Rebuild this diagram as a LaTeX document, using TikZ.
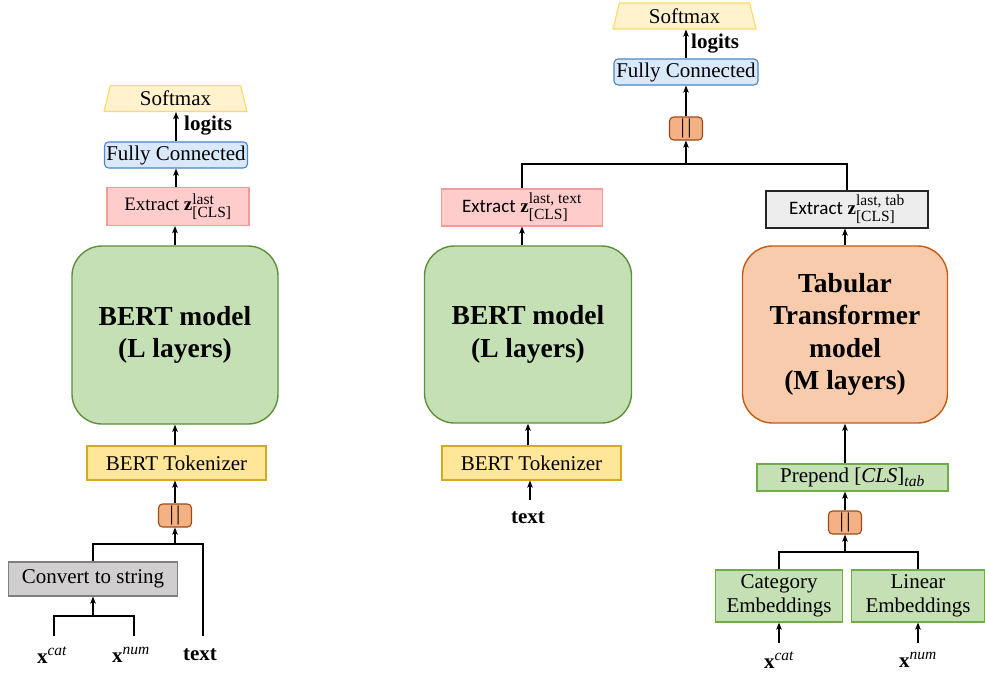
\documentclass[tikz,border=0pt]{standalone}
\usepackage{fontspec}
\setmainfont{Liberation Serif}
\newfontfamily\calfont{Carlito}
\usepackage{amsmath}
\usetikzlibrary{shapes.geometric,arrows.meta}
\newcommand\myfn{\fontsize{21}{24}\selectfont}
\newcommand\myfx{\fontsize{19}{21}\selectfont}
\newcommand\myfb{\fontsize{27.5}{32.5}\selectfont\bfseries}
\newcommand\myfl{\fontsize{21}{24}\selectfont\bfseries}
\newcommand\myfc{\fontsize{21}{22}\selectfont}
\newcommand\myss[1]{\mbox{\fontsize{15.5}{15.5}\selectfont\mdseries #1}}
\newcommand\mysi[1]{\mbox{\fontsize{15.5}{15.5}\selectfont\mdseries\itshape #1}}
\newcommand\zvec[1]{$\textbf{z}^{\myss{#1}}_{\myss{[CLS]}}$}
\definecolor{smfill}{HTML}{FFF2CC}
\definecolor{smdraw}{HTML}{FFD966}
\definecolor{fcfill}{HTML}{DAE8FC}
\definecolor{fcdraw}{HTML}{4A86C5}
\definecolor{exfill}{HTML}{FFCCCC}
\definecolor{exdraw}{HTML}{F19C99}
\definecolor{grfill}{HTML}{C5E0B4}
\definecolor{grdraw}{HTML}{5E8F3A}
\definecolor{lgdraw}{HTML}{70AD47}
\definecolor{tkfill}{HTML}{FFE699}
\definecolor{tkdraw}{HTML}{D4AA22}
\definecolor{ccfill}{HTML}{F4B183}
\definecolor{ccdraw}{HTML}{9C4A1A}
\definecolor{cvfill}{HTML}{D0CECE}
\definecolor{cvdraw}{HTML}{7F7F7F}
\definecolor{etfill}{HTML}{EDEDED}
\definecolor{etdraw}{HTML}{262626}
\definecolor{tbfill}{HTML}{F8CBAD}
\definecolor{tbdraw}{HTML}{C55A11}
\begin{document}
\begin{tikzpicture}[x=1pt,y=-1pt,
  box/.style={draw, line width=1.1pt, inner sep=0pt, align=center, font=\myfn},
  smx/.style={box, trapezium, trapezium left angle=77, trapezium right angle=77,
    trapezium stretches=true, fill=smfill, draw=smdraw, minimum width=143pt, minimum height=26pt},
  fcbox/.style={box, rounded corners=4pt, fill=fcfill, draw=fcdraw, minimum width=143pt, minimum height=26pt},
  exbox/.style={box, font=\myfx, fill=exfill, draw=exdraw, minimum height=38pt},
  etbox/.style={box, font=\myfx, fill=etfill, draw=etdraw, minimum height=37pt},
  model/.style={box, font=\myfb, rounded corners=30pt, line width=1.4pt, minimum height=177pt},
  tkbox/.style={box, fill=tkfill, draw=tkdraw, minimum width=179pt, minimum height=34pt},
  ccbox/.style={box, font=\myfc, rounded corners=4pt, fill=ccfill, draw=ccdraw, minimum width=33pt, minimum height=23pt},
  gbox/.style={box, fill=grfill, draw=lgdraw},
  lab/.style={font=\myfl, inner sep=0pt},
  arr/.style={-{Stealth[length=7pt,width=5.5pt,inset=1.5pt]}, line width=1.7pt},
  ln/.style={line width=1.7pt}
]
\path[use as bounding box] (0,0) rectangle (985,675);

% ---------- left column ----------
\node[smx] (sm1) at (175.5,98.5) {Softmax};
\node[fcbox] (fc1) at (176,155) {Fully Connected};
\node[lab, anchor=west] (lg1) at (184,126) {logits};
\node[exbox, minimum width=142pt] (ex1) at (178,206.5) {Extract \zvec{last}};
\node[model, fill=grfill, draw=grdraw, minimum width=206pt, minimum height=178pt] (bert1) at (175,335) {BERT model\\(L layers)};
\node[tkbox] (tok1) at (176.5,463) {BERT Tokenizer};
\node[ccbox] (cc1) at (175,515.5) {|\hspace{2.5pt}|};
\node[box, fill=cvfill, draw=cvdraw, minimum width=169pt, minimum height=34pt] (conv) at (93,579) {Convert to string};
\node[lab] (xc1) at (52,655) {$\textbf{x}^{\mysi{cat}}$};
\node[lab] (xn1) at (131,655) {$\textbf{x}^{\mysi{num}}$};
\node[lab] (tx1) at (200,655) {text};

\coordinate (j1) at (175,544);
\coordinate (j2) at (93,616);
\coordinate (a1) at (54,636);
\coordinate (a2) at (134,636);
\coordinate (a3) at (203,636);

\draw[arr] (fc1.north) -- (fc1.north |- sm1.south);
\draw[arr] (fc1.south |- ex1.north) -- (fc1.south);
\draw[arr] (bert1.north) -- (bert1.north |- ex1.south);
\draw[arr] (bert1.south |- tok1.north) -- (bert1.south);
\draw[arr] (cc1.north) -- (cc1.north |- tok1.south);
\draw[ln] (conv.north) |- (j1) -| (a3);
\draw[arr] (j1) -- (j1 |- cc1.south);
\draw[ln] (a1) |- (j2) -| (a2);
\draw[arr] (j2) -- (j2 |- conv.south);

% ---------- right part ----------
\node[smx] (sm2) at (684.5,16) {Softmax};
\node[fcbox, minimum width=144pt] (fc2) at (686,72) {Fully Connected};
\node[lab, anchor=west] (lg2) at (691,44) {logits};
\node[ccbox] (cc2) at (686,128.5) {|\hspace{2.5pt}|};
\node[exbox, minimum width=161pt, minimum height=37pt] (ex2) at (522,207.5) {{\calfont Extract} \zvec{last, text}};
\node[etbox, minimum width=162pt] (ex3) at (847,209.5) {{\calfont Extract} \zvec{last, tab}};
\node[model, fill=grfill, draw=grdraw, minimum width=207pt] (bert2) at (528,334.5) {BERT model\\(L layers)};
\node[model, fill=tbfill, draw=tbdraw, minimum width=205pt] (tab) at (845,334.5) {Tabular\\Transformer\\model\\(M layers)};
\node[tkbox] (tok2) at (531.5,463) {BERT Tokenizer};
\node[lab] (tx2) at (528,518) {text};
\node[gbox, minimum width=191pt, minimum height=27pt] (prep) at (852.5,477.5) {Prepend [\textit{CLS}]$_{\mysi{tab}}$};
\node[ccbox] (cc3) at (845,522.5) {|\hspace{2.5pt}|};
\node[gbox, minimum width=127pt, minimum height=52pt] (cat) at (779,596) {Category\\Embeddings};
\node[gbox, minimum width=133pt, minimum height=52pt] (lin) at (918,596) {Linear\\Embeddings};
\node[lab] (xc3) at (779,660) {$\textbf{x}^{\mysi{cat}}$};
\node[lab] (xn3) at (918,660) {$\textbf{x}^{\mysi{num}}$};

\coordinate (j3) at (686,164);
\coordinate (j4) at (845,552);
\coordinate (b1) at (530,500);
\coordinate (b2) at (779,643);
\coordinate (b3) at (918,643);

\draw[arr] (fc2.north) -- (fc2.north |- sm2.south);
\draw[arr] (cc2.north) -- (cc2.north |- fc2.south);
\draw[arr] (j3) -- (j3 |- cc2.south);
\draw[ln] (ex2.north) |- (j3) -| (ex3.north);
\draw[arr] (ex2.south |- bert2.north) -- (ex2.south);
\draw[arr] (tab.north) -- (tab.north |- ex3.south);
\draw[arr] (bert2.south |- tok2.north) -- (bert2.south);
\draw[arr] (b1) -- (b1 |- tok2.south);
\draw[arr] (tab.south |- prep.north) -- (tab.south);
\draw[arr] (cc3.north) -- (cc3.north |- prep.south);
\draw[arr] (j4) -- (j4 |- cc3.south);
\draw[ln] (cat.north) |- (j4) -| (lin.north);
\draw[arr] (b2) -- (cat.south);
\draw[arr] (b3) -- (lin.south);
\end{tikzpicture}
\end{document}
